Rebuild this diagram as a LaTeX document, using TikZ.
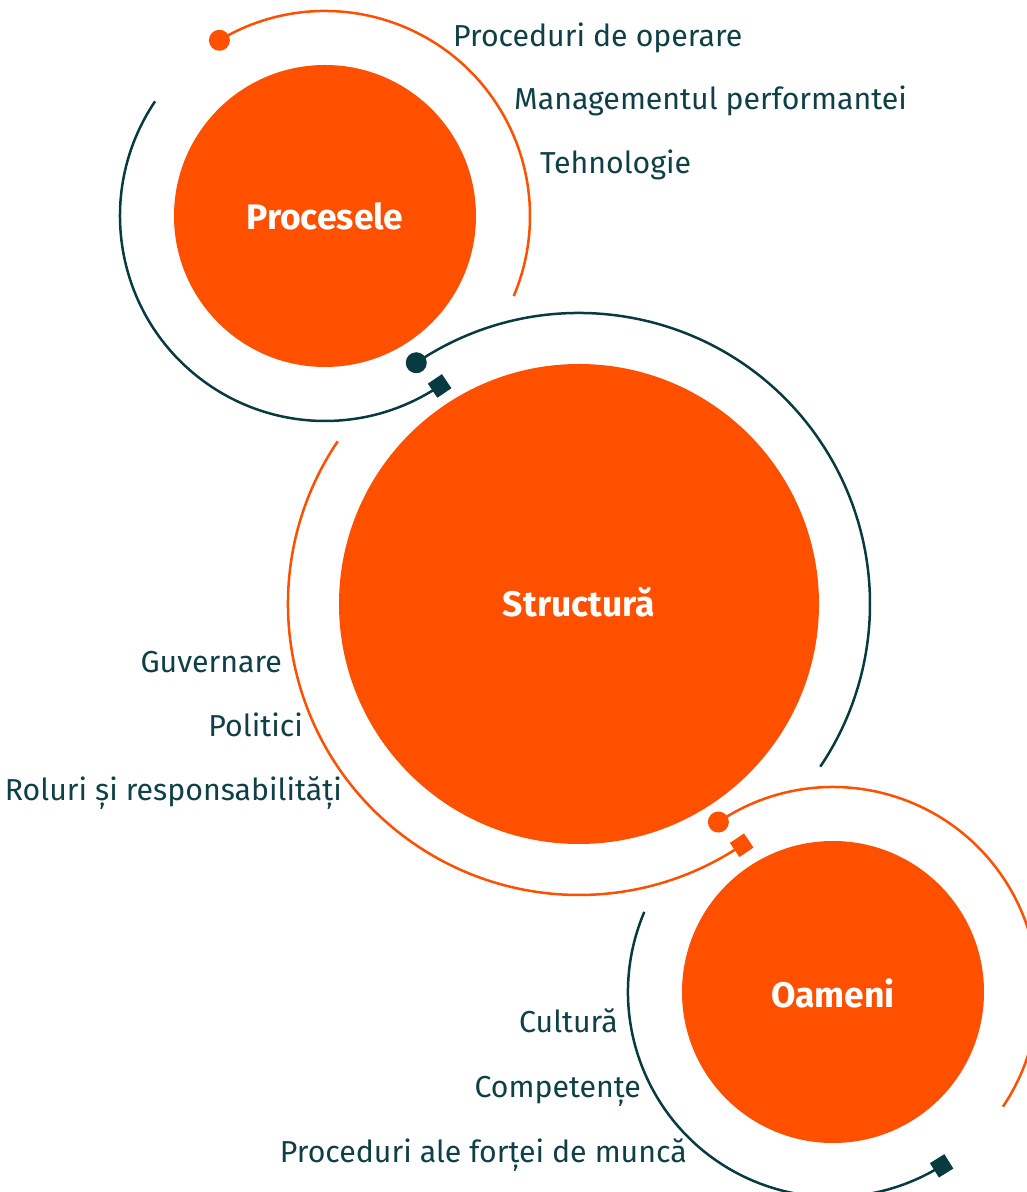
\documentclass[tikz,border=0pt]{standalone}
\usepackage{fontspec}
\setmainfont{Fira Sans}
\usetikzlibrary{calc}
\definecolor{brandorange}{HTML}{FF5000}
\definecolor{branddark}{HTML}{073B40}
\definecolor{textdark}{HTML}{0E4045}
\tikzset{
  bigc/.style={circle, fill=brandorange, draw=none, inner sep=0pt},
  orangeline/.style={draw=brandorange, line width=2.5pt},
  darkline/.style={draw=branddark, line width=2.5pt},
  odot/.style={circle, fill=brandorange, inner sep=0pt, minimum size=21pt},
  ddot/.style={circle, fill=branddark, inner sep=0pt, minimum size=21pt},
  odiam/.style={rectangle, fill=brandorange, inner sep=0pt, minimum size=17pt},
  ddiam/.style={rectangle, fill=branddark, inner sep=0pt, minimum size=17pt},
  item/.style={inner sep=0pt, text=textdark, font=\fontsize{30.3}{36}\selectfont},
  title/.style={inner sep=0pt, text=white, anchor=base, font=\fontsize{35.5}{42}\selectfont\bfseries},
}
\begin{document}
\begin{tikzpicture}[x=1pt,y=1pt]
\useasboundingbox (0,0) rectangle (1027,1192);
% main circles
\node[bigc, minimum size=302pt] (c1) at (325,976) {};
\node[bigc, minimum size=480pt] (c2) at (579,588) {};
\node[bigc, minimum size=302pt] (c3) at (833,200) {};
% circle 1 arcs
\draw[orangeline] (c1.center) ++(121:205pt) arc[start angle=121, end angle=-23, radius=205pt];
\draw[darkline] (c1.center) ++(146:205pt) arc[start angle=146, end angle=304, radius=205pt];
\node[odot] (c1dot) at ($(c1.center)+(121:205pt)$) {};
\node[ddiam, rotate=34] (c1dia) at ($(c1.center)+(304:205pt)$) {};
% circle 2 arcs
\draw[darkline] (c2.center) ++(124:291pt) arc[start angle=124, end angle=-34, radius=291pt];
\draw[orangeline] (c2.center) ++(146:291pt) arc[start angle=146, end angle=304, radius=291pt];
\node[ddot] (c2dot) at ($(c2.center)+(124:291pt)$) {};
\node[odiam, rotate=34] (c2dia) at ($(c2.center)+(304:291pt)$) {};
% circle 3 arcs
\draw[orangeline] (c3.center) ++(124:205pt) arc[start angle=124, end angle=-34, radius=205pt];
\draw[darkline] (c3.center) ++(157:205pt) arc[start angle=157, end angle=302, radius=205pt];
\node[odot] (c3dot) at ($(c3.center)+(124:205pt)$) {};
\node[ddiam, rotate=32] (c3dia) at ($(c3.center)+(302:205pt)$) {};
% titles
\node[title] (t1) at (325,962) {Procesele};
\node[title] (t2) at (579,575) {Structură};
\node[title] (t3) at (833,184) {Oameni};
% items
\node[item, anchor=base west] (i1) at (453,1145) {Proceduri de operare};
\node[item, anchor=base west] (i2) at (514,1082) {Managementul performantei};
\node[item, anchor=base west] (i3) at (540,1018) {Tehnologie};
\node[item, anchor=base east] (i4) at (282,519) {Guvernare};
\node[item, anchor=base east] (i5) at (303,455) {Politici};
\node[item, anchor=base east] (i6) at (342,391) {Roluri și responsabilități};
\node[item, anchor=base east] (i7) at (618,159) {Cultură};
\node[item, anchor=base east] (i8) at (641,94) {Competențe};
\node[item, anchor=base east] (i9) at (687,30) {Proceduri ale forței de muncă};
\end{tikzpicture}
\end{document}
